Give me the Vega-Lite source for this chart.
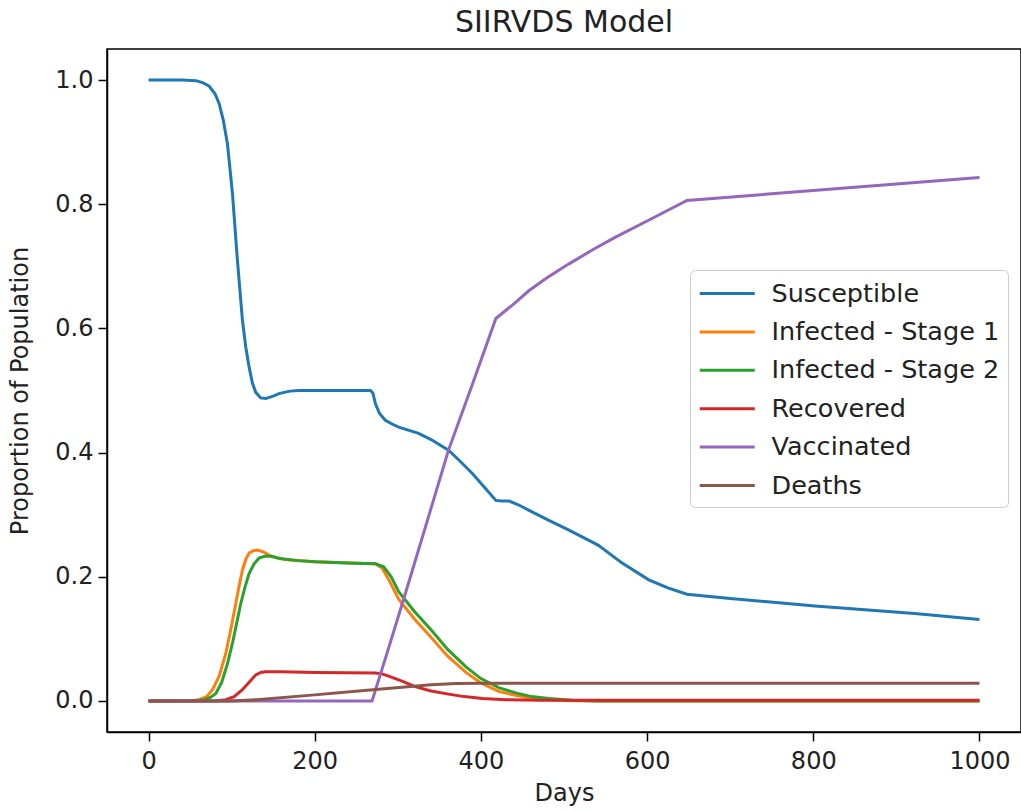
{
"$schema":"https://vega.github.io/schema/vega-lite/v6.json",
"autosize":{"type":"none"},
"padding":{"left":107,"top":49,"right":0,"bottom":79},
"width":914,"height":683,
"background":"white",
"title":{"text":"SIIRVDS Model","fontSize":30,"font":"DejaVu Sans","fontWeight":"normal","color":"#222","anchor":"middle","offset":11},
"data":{"values":[
{"s":"Susceptible","d":0,"v":1.0},{"s":"Susceptible","d":40,"v":1.0},{"s":"Susceptible","d":57,"v":0.999},{"s":"Susceptible","d":65,"v":0.996},{"s":"Susceptible","d":73,"v":0.99},{"s":"Susceptible","d":80,"v":0.978},{"s":"Susceptible","d":85,"v":0.962},{"s":"Susceptible","d":90,"v":0.935},{"s":"Susceptible","d":95,"v":0.897},{"s":"Susceptible","d":101,"v":0.817},{"s":"Susceptible","d":107,"v":0.709},{"s":"Susceptible","d":113,"v":0.613},{"s":"Susceptible","d":117,"v":0.57},{"s":"Susceptible","d":121,"v":0.538},{"s":"Susceptible","d":125,"v":0.512},{"s":"Susceptible","d":129,"v":0.497},{"s":"Susceptible","d":135,"v":0.488},{"s":"Susceptible","d":141,"v":0.487},{"s":"Susceptible","d":150,"v":0.491},{"s":"Susceptible","d":157,"v":0.495},{"s":"Susceptible","d":170,"v":0.499},{"s":"Susceptible","d":181,"v":0.5},{"s":"Susceptible","d":220,"v":0.5},{"s":"Susceptible","d":267,"v":0.5},{"s":"Susceptible","d":270,"v":0.496},{"s":"Susceptible","d":273,"v":0.479},{"s":"Susceptible","d":278,"v":0.463},{"s":"Susceptible","d":285,"v":0.452},{"s":"Susceptible","d":293,"v":0.446},{"s":"Susceptible","d":301,"v":0.441},{"s":"Susceptible","d":325,"v":0.431},{"s":"Susceptible","d":340,"v":0.421},{"s":"Susceptible","d":361,"v":0.404},{"s":"Susceptible","d":375,"v":0.386},{"s":"Susceptible","d":390,"v":0.366},{"s":"Susceptible","d":405,"v":0.343},{"s":"Susceptible","d":418,"v":0.323},{"s":"Susceptible","d":425,"v":0.322},{"s":"Susceptible","d":434,"v":0.322},{"s":"Susceptible","d":445,"v":0.316},{"s":"Susceptible","d":458,"v":0.307},{"s":"Susceptible","d":480,"v":0.292},{"s":"Susceptible","d":506,"v":0.275},{"s":"Susceptible","d":541,"v":0.251},{"s":"Susceptible","d":570,"v":0.222},{"s":"Susceptible","d":602,"v":0.195},{"s":"Susceptible","d":625,"v":0.182},{"s":"Susceptible","d":648,"v":0.172},{"s":"Susceptible","d":700,"v":0.165},{"s":"Susceptible","d":802,"v":0.153},{"s":"Susceptible","d":922,"v":0.141},{"s":"Susceptible","d":1000,"v":0.131},
{"s":"Infected - Stage 1","d":0,"v":0.0},{"s":"Infected - Stage 1","d":50,"v":0.0005},{"s":"Infected - Stage 1","d":61,"v":0.002},{"s":"Infected - Stage 1","d":70,"v":0.007},{"s":"Infected - Stage 1","d":77,"v":0.018},{"s":"Infected - Stage 1","d":85,"v":0.04},{"s":"Infected - Stage 1","d":93,"v":0.077},{"s":"Infected - Stage 1","d":99,"v":0.115},{"s":"Infected - Stage 1","d":105,"v":0.157},{"s":"Infected - Stage 1","d":109,"v":0.185},{"s":"Infected - Stage 1","d":113,"v":0.211},{"s":"Infected - Stage 1","d":117,"v":0.228},{"s":"Infected - Stage 1","d":121,"v":0.238},{"s":"Infected - Stage 1","d":126,"v":0.242},{"s":"Infected - Stage 1","d":131,"v":0.243},{"s":"Infected - Stage 1","d":138,"v":0.24},{"s":"Infected - Stage 1","d":145,"v":0.235},{"s":"Infected - Stage 1","d":155,"v":0.23},{"s":"Infected - Stage 1","d":170,"v":0.227},{"s":"Infected - Stage 1","d":201,"v":0.224},{"s":"Infected - Stage 1","d":240,"v":0.222},{"s":"Infected - Stage 1","d":273,"v":0.221},{"s":"Infected - Stage 1","d":281,"v":0.214},{"s":"Infected - Stage 1","d":290,"v":0.193},{"s":"Infected - Stage 1","d":301,"v":0.164},{"s":"Infected - Stage 1","d":320,"v":0.132},{"s":"Infected - Stage 1","d":341,"v":0.101},{"s":"Infected - Stage 1","d":360,"v":0.072},{"s":"Infected - Stage 1","d":382,"v":0.046},{"s":"Infected - Stage 1","d":400,"v":0.029},{"s":"Infected - Stage 1","d":422,"v":0.015},{"s":"Infected - Stage 1","d":442,"v":0.009},{"s":"Infected - Stage 1","d":461,"v":0.004},{"s":"Infected - Stage 1","d":482,"v":0.002},{"s":"Infected - Stage 1","d":510,"v":0.0005},{"s":"Infected - Stage 1","d":540,"v":0.0},{"s":"Infected - Stage 1","d":1000,"v":0.0},
{"s":"Infected - Stage 2","d":0,"v":0.0},{"s":"Infected - Stage 2","d":55,"v":0.0003},{"s":"Infected - Stage 2","d":68,"v":0.002},{"s":"Infected - Stage 2","d":75,"v":0.006},{"s":"Infected - Stage 2","d":81,"v":0.012},{"s":"Infected - Stage 2","d":88,"v":0.03},{"s":"Infected - Stage 2","d":95,"v":0.06},{"s":"Infected - Stage 2","d":101,"v":0.093},{"s":"Infected - Stage 2","d":106,"v":0.125},{"s":"Infected - Stage 2","d":111,"v":0.157},{"s":"Infected - Stage 2","d":116,"v":0.183},{"s":"Infected - Stage 2","d":121,"v":0.205},{"s":"Infected - Stage 2","d":127,"v":0.221},{"s":"Infected - Stage 2","d":133,"v":0.23},{"s":"Infected - Stage 2","d":140,"v":0.233},{"s":"Infected - Stage 2","d":147,"v":0.233},{"s":"Infected - Stage 2","d":160,"v":0.229},{"s":"Infected - Stage 2","d":180,"v":0.226},{"s":"Infected - Stage 2","d":201,"v":0.224},{"s":"Infected - Stage 2","d":240,"v":0.222},{"s":"Infected - Stage 2","d":273,"v":0.221},{"s":"Infected - Stage 2","d":283,"v":0.216},{"s":"Infected - Stage 2","d":292,"v":0.2},{"s":"Infected - Stage 2","d":301,"v":0.176},{"s":"Infected - Stage 2","d":320,"v":0.144},{"s":"Infected - Stage 2","d":341,"v":0.113},{"s":"Infected - Stage 2","d":360,"v":0.083},{"s":"Infected - Stage 2","d":382,"v":0.055},{"s":"Infected - Stage 2","d":400,"v":0.036},{"s":"Infected - Stage 2","d":422,"v":0.021},{"s":"Infected - Stage 2","d":442,"v":0.013},{"s":"Infected - Stage 2","d":461,"v":0.007},{"s":"Infected - Stage 2","d":482,"v":0.004},{"s":"Infected - Stage 2","d":510,"v":0.001},{"s":"Infected - Stage 2","d":540,"v":0.0},{"s":"Infected - Stage 2","d":1000,"v":0.0},
{"s":"Recovered","d":0,"v":0.0},{"s":"Recovered","d":80,"v":0.0},{"s":"Recovered","d":93,"v":0.002},{"s":"Recovered","d":103,"v":0.007},{"s":"Recovered","d":113,"v":0.018},{"s":"Recovered","d":121,"v":0.03},{"s":"Recovered","d":129,"v":0.042},{"s":"Recovered","d":135,"v":0.046},{"s":"Recovered","d":141,"v":0.047},{"s":"Recovered","d":160,"v":0.047},{"s":"Recovered","d":201,"v":0.046},{"s":"Recovered","d":273,"v":0.045},{"s":"Recovered","d":280,"v":0.044},{"s":"Recovered","d":289,"v":0.04},{"s":"Recovered","d":305,"v":0.032},{"s":"Recovered","d":321,"v":0.023},{"s":"Recovered","d":340,"v":0.016},{"s":"Recovered","d":361,"v":0.011},{"s":"Recovered","d":380,"v":0.007},{"s":"Recovered","d":402,"v":0.004},{"s":"Recovered","d":430,"v":0.002},{"s":"Recovered","d":470,"v":0.001},{"s":"Recovered","d":1000,"v":0.001},
{"s":"Vaccinated","d":0,"v":0.0},{"s":"Vaccinated","d":269,"v":0.0},{"s":"Vaccinated","d":290,"v":0.09},{"s":"Vaccinated","d":310,"v":0.177},{"s":"Vaccinated","d":335,"v":0.288},{"s":"Vaccinated","d":361,"v":0.404},{"s":"Vaccinated","d":390,"v":0.511},{"s":"Vaccinated","d":418,"v":0.616},{"s":"Vaccinated","d":440,"v":0.64},{"s":"Vaccinated","d":458,"v":0.661},{"s":"Vaccinated","d":480,"v":0.682},{"s":"Vaccinated","d":506,"v":0.704},{"s":"Vaccinated","d":535,"v":0.727},{"s":"Vaccinated","d":562,"v":0.747},{"s":"Vaccinated","d":600,"v":0.773},{"s":"Vaccinated","d":648,"v":0.806},{"s":"Vaccinated","d":1000,"v":0.843},
{"s":"Deaths","d":0,"v":0.0},{"s":"Deaths","d":100,"v":0.0},{"s":"Deaths","d":130,"v":0.002},{"s":"Deaths","d":200,"v":0.0098},{"s":"Deaths","d":270,"v":0.018},{"s":"Deaths","d":340,"v":0.026},{"s":"Deaths","d":370,"v":0.028},{"s":"Deaths","d":400,"v":0.0285},{"s":"Deaths","d":1000,"v":0.0285}
]},
"mark":{"type":"line","strokeWidth":3,"clip":true},
"encoding":{
"x":{"field":"d","type":"quantitative","scale":{"domain":[-50,1050],"nice":false,"zero":false},
"axis":{"title":"Days","values":[0,200,400,600,800,1000],"format":"d","grid":false,"labelFlush":false,"labelOverlap":false,"labelPadding":8,"titlePadding":8}},
"y":{"field":"v","type":"quantitative","scale":{"domain":[-0.05,1.05],"nice":false,"zero":false},
"axis":{"title":"Proportion of Population","values":[0,0.2,0.4,0.6,0.8,1.0],"format":".1f","grid":false,"labelFlush":false,"labelOverlap":false}},
"color":{"field":"s","type":"nominal","title":null,
"scale":{"domain":["Susceptible","Infected - Stage 1","Infected - Stage 2","Recovered","Vaccinated","Deaths"],"range":["#1f77b4","#ff7f0e","#2ca02c","#d62728","#9467bd","#8c564b"]},
"legend":{"orient":"none","legendX":583,"legendY":221,"symbolType":"M-1,0H3","symbolSize":756.25,"symbolStrokeWidth":3,"labelFontSize":25.5,"labelFont":"DejaVu Sans","labelColor":"#222","labelLimit":400,"rowPadding":9.4,"labelOffset":42.5,"padding":8,"strokeColor":"#cccccc","fillColor":"white","cornerRadius":5}}
},
"config":{
"view":{"stroke":"black","strokeWidth":1.5},
"axis":{"labelFont":"DejaVu Sans","titleFont":"DejaVu Sans","labelFontSize":24,"titleFontSize":24,"titleFontWeight":"normal","labelColor":"#222","titleColor":"#222","domainColor":"black","domainWidth":1.5,"tickColor":"black","tickWidth":1.5,"tickSize":9,"labelPadding":5},
"axisY":{"titlePadding":22}
}
}
